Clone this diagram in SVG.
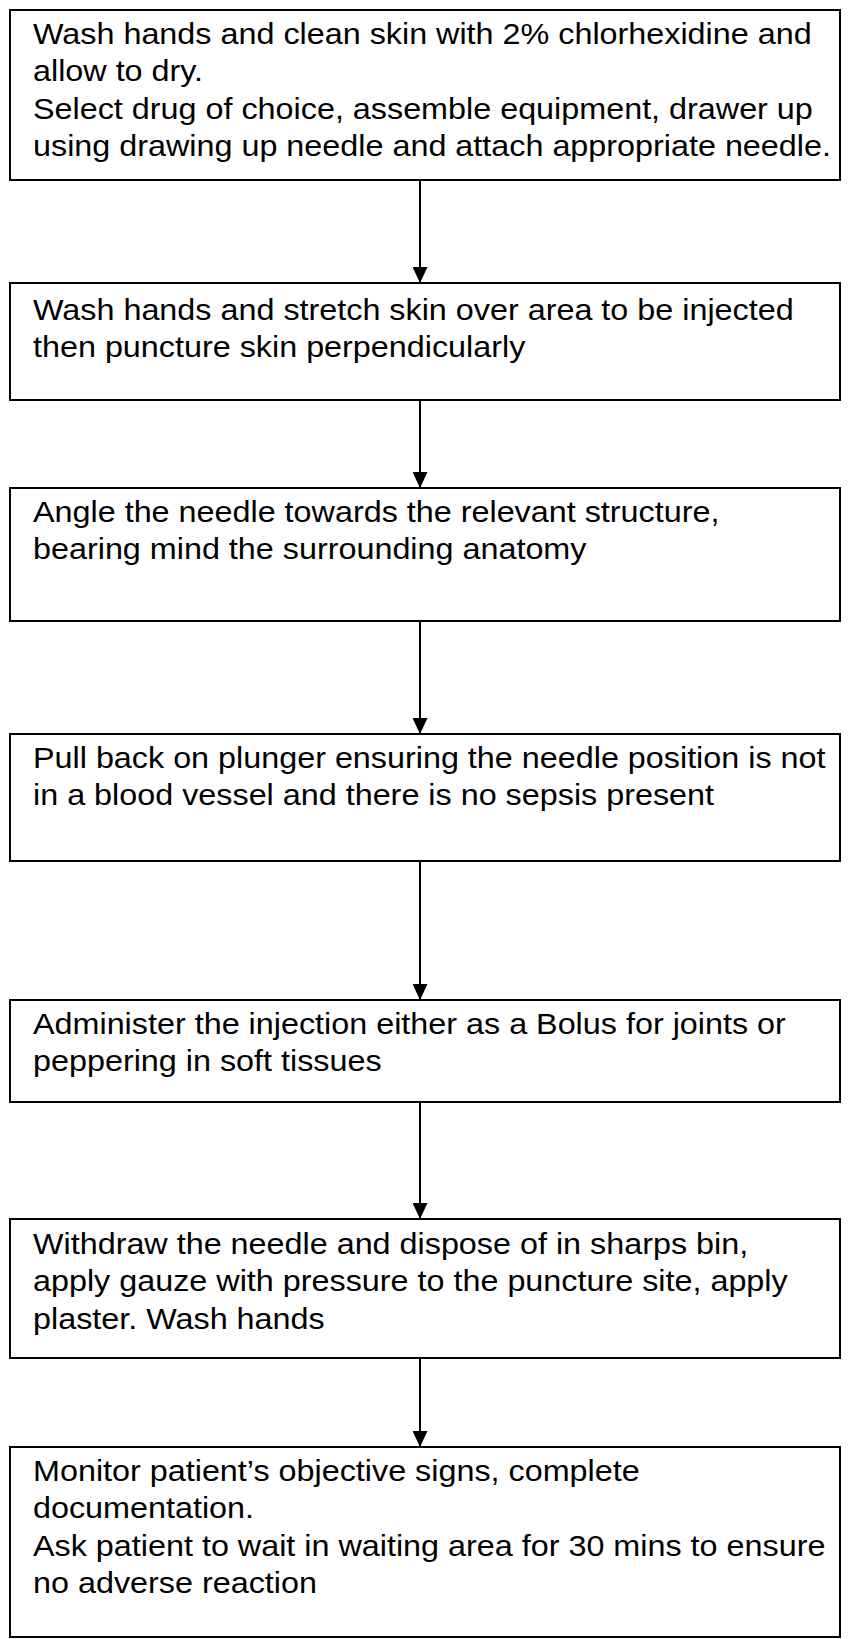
<svg xmlns="http://www.w3.org/2000/svg" width="856" height="1639" viewBox="0 0 856 1639">
<style>
.box{fill:#fff;stroke:#000;stroke-width:2}
.t{font-family:"Liberation Sans",Arial,sans-serif;font-size:29px;fill:#000}
.c{stroke:#000;stroke-width:2;fill:none}
</style>
<defs>
<marker id="ah" markerWidth="16" markerHeight="15" refX="16" refY="7.5" orient="auto" markerUnits="userSpaceOnUse">
<path d="M0,0 L16,7.5 L0,15 Z" fill="#000"/>
</marker>
</defs>
<rect width="856" height="1639" fill="#fff"/>
<g id="connectors">
<line class="c" x1="420" y1="180" x2="420" y2="283" marker-end="url(#ah)"/>
<line class="c" x1="420" y1="400" x2="420" y2="488" marker-end="url(#ah)"/>
<line class="c" x1="420" y1="621" x2="420" y2="734" marker-end="url(#ah)"/>
<line class="c" x1="420" y1="861" x2="420" y2="1000" marker-end="url(#ah)"/>
<line class="c" x1="420" y1="1102" x2="420" y2="1219" marker-end="url(#ah)"/>
<line class="c" x1="420" y1="1358" x2="420" y2="1447" marker-end="url(#ah)"/>
</g>
<g id="n1">
<rect class="box" x="10" y="10" width="830" height="170"/>
<g transform="translate(33,0) scale(1.115,1)">
<text class="t" x="0" y="44">Wash hands and clean skin with 2% chlorhexidine and</text>
<text class="t" x="0" y="81.5">allow to dry.</text>
<text class="t" x="0" y="119">Select drug of choice, assemble equipment, drawer up</text>
<text class="t" x="0" y="156.5">using drawing up needle and attach appropriate needle.</text>
</g>
</g>
<g id="n2">
<rect class="box" x="10" y="283" width="830" height="117"/>
<g transform="translate(33,0) scale(1.115,1)">
<text class="t" x="0" y="320">Wash hands and stretch skin over area to be injected</text>
<text class="t" x="0" y="357.5">then puncture skin perpendicularly</text>
</g>
</g>
<g id="n3">
<rect class="box" x="10" y="488" width="830" height="133"/>
<g transform="translate(33,0) scale(1.115,1)">
<text class="t" x="0" y="522">Angle the needle towards the relevant structure,</text>
<text class="t" x="0" y="559.5">bearing mind the surrounding anatomy</text>
</g>
</g>
<g id="n4">
<rect class="box" x="10" y="734" width="830" height="127"/>
<g transform="translate(33,0) scale(1.115,1)">
<text class="t" x="0" y="768">Pull back on plunger ensuring the needle position is not</text>
<text class="t" x="0" y="805.5">in a blood vessel and there is no sepsis present</text>
</g>
</g>
<g id="n5">
<rect class="box" x="10" y="1000" width="830" height="102"/>
<g transform="translate(33,0) scale(1.115,1)">
<text class="t" x="0" y="1034">Administer the injection either as a Bolus for joints or</text>
<text class="t" x="0" y="1071.5">peppering in soft tissues</text>
</g>
</g>
<g id="n6">
<rect class="box" x="10" y="1219" width="830" height="139"/>
<g transform="translate(33,0) scale(1.115,1)">
<text class="t" x="0" y="1254">Withdraw the needle and dispose of in sharps bin,</text>
<text class="t" x="0" y="1291.5">apply gauze with pressure to the puncture site, apply</text>
<text class="t" x="0" y="1329">plaster. Wash hands</text>
</g>
</g>
<g id="n7">
<rect class="box" x="10" y="1447" width="830" height="190"/>
<g transform="translate(33,0) scale(1.115,1)">
<text class="t" x="0" y="1481">Monitor patient’s objective signs, complete</text>
<text class="t" x="0" y="1518.5">documentation.</text>
<text class="t" x="0" y="1556">Ask patient to wait in waiting area for 30 mins to ensure</text>
<text class="t" x="0" y="1593.5">no adverse reaction</text>
</g>
</g>
</svg>
